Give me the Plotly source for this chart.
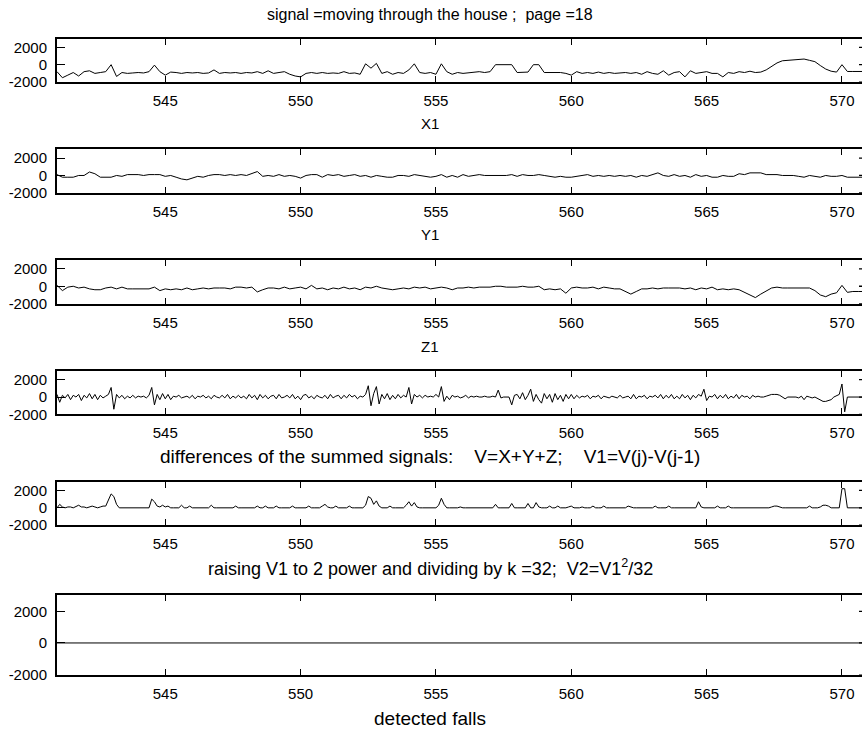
import numpy as np
import plotly.graph_objects as go

# ---------------- data ----------------
T0, T1 = 541.0, 571.0
T_COARSE = np.round(np.linspace(T0, T1, 151), 1)   # 0.2 s grid
T_FINE = np.round(np.linspace(T0, T1, 301), 1)     # 0.1 s grid

X1 = [-800, -1500, -1200, -900, -1300, -800, -700, -1000, -900, -800,
      0, -1350, -900, -1000, -950, -900, -950, -800, -50, -800,
      -1200, -850, -900, -1000, -900, -950, -900, -1000, -950, -600,
      -1000, -900, -950, -900, -1000, -900, -950, -800, -1000, -700,
      -1000, -900, -800, -1100, -1300, -1400, -1000, -900, -1000, -900,
      -1000, -950, -1000, -800, -1000, -950, -1100, 100, -400, 150,
      -1000, -800, -1100, -900, -1000, -600, 100, -900, -1000, -900,
      -1100, 100, -800, -1100, -900, -1000, -950, -900, -800, -900,
      -800, 0, 0, 0, 0, -900, -900, -850, 0, 0,
      -900, -900, -950, -900, -1000, -1200, -800, -1000, -900, -1000,
      -850, -1000, -900, -1000, -950, -900, -1000, -900, -1100, -800,
      -1000, -1100, -700, -1200, -900, -800, -1400, -700, -1000, -900,
      -800, -1000, -1000, -1400, -900, -1000, -800, -900, -750, -900,
      -850, -600, -200, 200, 450, 500, 500, 550, 650, 500,
      350, -100, -500, -750, -850, 0, -780, -780, -780, -780,
      -780]

Y1 = [100, -200, -200, -200, 0, 0, 400, 200, -200, -200,
      -200, 0, -100, 100, 100, 100, 0, 100, 100, 100,
      -100, 0, -200, -400, -500, -300, -100, -200, 0, 100,
      100, 0, 100, 0, 100, 0, 200, 450, -100, 0,
      -100, 100, -100, 0, -100, -300, 0, 100, 100, -200,
      100, 0, 100, -100, 0, 100, -100, 0, -200, 0,
      -100, -200, -200, 0, 0, -100, 100, 0, -100, -200,
      -100, 100, -200, 0, -200, 100, -100, 0, 100, 0,
      0, 0, 0, 0, 100, -100, 100, 0, 0, 100,
      0, -100, -200, -100, -200, -200, -100, 0, 100, -100,
      0, -100, 0, -100, 0, -100, 0, -200, 0, -100,
      100, 300, 0, -100, 100, -100, 0, -200, 100, -100,
      0, -200, -200, 0, -100, -100, 200, 100, 300, 300,
      300, 100, 100, 100, 0, 0, 0, -100, -200, 0,
      -100, -200, 0, -100, -100, 0, -200, -200, -200, -200,
      -200]

Z1 = [100, -500, -100, 0, -200, -100, -300, -400, -400, -200,
      -100, -300, -100, -300, -300, -300, -300, -300, -100, -500,
      -300, -400, -300, -400, -200, -400, -300, -200, -300, -200,
      -200, -200, -300, -100, -100, -200, -100, -650, -400, -200,
      -200, -300, -100, -300, -200, -100, -300, 100, -300, -200,
      -400, -200, -300, -100, -300, -200, -400, -100, -200, 0,
      -200, -300, -400, -300, -200, -300, -100, -200, -100, -300,
      -200, -100, -200, -400, -200, -200, -100, -200, -100, -100,
      -100, 0, 0, -100, -100, -100, 0, -100, -100, 0,
      -400, -300, -400, -300, -800, -200, -100, -200, -200, -100,
      -300, -100, -200, -300, -300, -600, -900, -600, -300, -300,
      -200, -300, -200, -200, -200, -200, -300, -200, -400, -200,
      -300, -100, -400, -300, -400, -300, -400, -700, -1000, -1300,
      -900, -500, -200, -100, -200, -200, -200, -200, -200, -200,
      -500, -1000, -1200, -900, -750, 100, -700, -600, -600, -600,
      -600]

V1 = [300, -600, 200, -100, 300, -300, 200, 0, 300, -400,
      200, -100, 400, -200, 300, -300, 200, -100, 100, 300,
      1100, -1400, 300, -100, 200, -200, 100, -100, 200, -100,
      100, 0, 100, -100, 200, 1100, -900, 300, -300, 400,
      -200, 300, -300, 100, 0, 200, -100, 0, 100, -100,
      200, -200, 100, 0, 200, -100, 100, -200, 200, 0,
      -100, 200, -100, 300, -200, 100, -100, 200, -100, 100,
      -200, 300, -100, 200, -300, 300, -100, 200, -200, 100,
      200, -200, 300, -100, 0, 200, -100, 300, -200, 100,
      -300, 200, 300, -100, 100, -200, 200, 0, -100, 200,
      -200, 300, -100, 100, 200, -200, 200, -100, 300, 0,
      200, -200, 100, 0, 300, 1300, -1000, 400, 1200, -800,
      300, -200, 400, -300, 200, -200, 300, -100, 200, 0,
      1100, -800, 300, 0, 200, -100, 200, 0, 100, 0,
      300, 0, 1200, -500, 100, -300, 200, 0, 100, -100,
      0, 200, -100, 100, 0, 100, 0, 0, 100, 0,
      0, 100, 0, 800, -100, 0, 0, 0, -900, 200,
      300, -200, 500, -300, 200, 900, -500, 300, -300, -700,
      400, -200, 300, -600, 400, -300, 200, -500, 300, -200,
      300, -200, 200, -100, 100, 0, 200, -200, 100, 0,
      200, -200, 100, 0, -100, 100, 0, -100, 200, -100,
      0, 100, -200, 300, -200, 100, 0, 200, -200, 100,
      0, 200, -100, 300, -200, 200, -100, 300, -200, 100,
      -200, 300, -100, 200, -300, 200, -100, 300, 100, 900,
      -400, 100, 0, 300, -200, 200, -100, 300, -200, 100,
      -100, 300, -200, 200, 0, 100, -200, 200, 0, 100,
      0, 0, 100, 200, 300, 300, 300, 200, 0, -200,
      0, 0, 0, 0, -100, 100, -300, 100, 0, -100,
      0, -200, -400, -500, -500, -400, -300, 0, 200, 300,
      1500, -1700, 0, 0, 0, 0, 0, 0, 0, 0,
      0]

V2 = [0, 400, 100, 0, 100, 100, 0, 200, 300, 100,
      100, 0, 100, 200, 100, 0, 100, 200, 200, 900,
      1600, 1300, 400, 0, 0, 0, 0, 0, 0, 0,
      0, 0, 0, 0, 0, 1000, 700, 200, 100, 300,
      100, 200, 0, 0, 0, 0, 300, 0, 0, 200,
      0, 0, 0, 0, 0, 0, 0, 300, 0, 0,
      0, 0, 0, 0, 0, 0, 200, 0, 0, 0,
      0, 0, 0, 0, 200, 0, 0, 200, 0, 0,
      0, 200, 0, 0, 0, 0, 0, 200, 0, 0,
      0, 0, 0, 200, 0, 0, 0, 0, 200, 400,
      100, 0, 0, 200, 0, 0, 0, 0, 200, 0,
      0, 0, 0, 0, 300, 1300, 1100, 400, 800, 200,
      0, 0, 0, 200, 0, 0, 0, 0, 0, 300,
      700, 200, 600, 100, 0, 0, 0, 0, 0, 0,
      0, 300, 1100, 400, 0, 0, 0, 0, 0, 100,
      0, 0, 0, 0, 0, 0, 0, 0, 0, 0,
      0, 0, 400, 0, 0, 0, 0, 0, 500, 0,
      0, 0, 0, 0, 500, 0, 0, 600, 100, 0,
      0, 0, 200, 0, 0, 200, 0, 0, 0, 100,
      200, 0, 0, 0, 100, 0, 0, 0, 200, 0,
      0, 0, 200, 0, 0, 0, 0, 0, 0, 0,
      0, 200, 100, 0, 0, 0, 0, 0, 0, 0,
      0, 200, 0, 0, 0, 0, 200, 0, 0, 0,
      0, 0, 0, 0, 0, 0, 0, 700, 100, 0,
      0, 0, 0, 0, 200, 0, 0, 0, 200, 0,
      0, 0, 0, 0, 0, 0, 0, 0, 0, 0,
      0, 0, 0, 0, 100, 200, 200, 100, 0, 0,
      0, 0, 0, 0, 0, 0, 0, 0, 200, 0,
      0, 0, 100, 300, 300, 200, 0, 0, 0, 0,
      2200, 2200, 0, 0, 0, 0, 0, 0, 0, 0,
      0]

FALLS = [0] * len(T_FINE)   # no falls detected: flat zero line

X_TICKS = [545, 550, 555, 560, 565, 570]
Y_TICKS = [-2000, 0, 2000]
Y_LABELS = ["-2000", "0", "2000"]
Y_RANGE = [-2000, 3000]
X_RANGE = [541.0, 570.74]

NB = "\u00a0"
TITLE = "signal =moving through the house ;" + NB * 2 + "page =18"
XLABELS = ["X1", "Y1", "Z1",
           "differences of the summed signals:" + NB * 4 + "V=X+Y+Z;" + NB * 4 + "V1=V(j)-V(j-1)",
           "raising V1 to 2 power and dividing by k =32;" + NB * 2 + "V2=V1<sup>2</sup>/32",
           "detected falls"]
XLABEL_SIZES = [15, 15, 15, 19, 18, 19]

SERIES = [(T_COARSE, X1), (T_COARSE, Y1), (T_COARSE, Z1),
          (T_FINE, V1), (T_FINE, V2), (T_FINE, FALLS)]

# ---------------- layout geometry (pixels) ----------------
W, H = 862, 738
LEFT = 57
BOXES = [(39, 83), (151, 195), (263, 307), (375, 419), (487, 531), (602, 682)]
LABEL_Y = [125, 237, 350, 462, 574, 726]
FONT = "Liberation Sans, Arial, sans-serif"

fig = go.Figure()
layout = dict(
    width=W, height=H, margin=dict(l=0, r=0, t=0, b=0),
    paper_bgcolor="white", plot_bgcolor="white", showlegend=False,
    font=dict(family=FONT, size=15, color="black"),
)
shapes = []
annotations = []

for i, ((t, v), (top, bot)) in enumerate(zip(SERIES, BOXES)):
    n = "" if i == 0 else str(i + 1)
    fig.add_trace(go.Scatter(x=t, y=v, mode="lines",
                             line=dict(color="black", width=1),
                             xaxis="x" + n, yaxis="y" + n, hoverinfo="skip"))
    layout["xaxis" + n] = dict(
        domain=[LEFT / W, 1.0], range=X_RANGE, anchor="y" + n,
        tickvals=X_TICKS, ticks="inside", ticklen=6, tickwidth=1.3,
        tickcolor="black", showline=True, linewidth=2, linecolor="black",
        mirror="ticks", showgrid=False, zeroline=False, ticklabelstandoff=4,
        tickfont=dict(family=FONT, size=15, color="black"), fixedrange=True,
    )
    layout["yaxis" + n] = dict(
        domain=[1 - bot / H, 1 - top / H], range=Y_RANGE, anchor="x" + n,
        tickvals=Y_TICKS, ticktext=Y_LABELS, ticks="inside", ticklen=8,
        tickwidth=1.3, tickcolor="black", showline=True, linewidth=2,
        linecolor="black", mirror=False, showgrid=False, zeroline=False,
        ticklabelstandoff=5,
        tickfont=dict(family=FONT, size=15, color="black"), fixedrange=True,
    )
    # right-side inward y ticks, mostly cut off by the figure edge
    for yv in Y_TICKS:
        shapes.append(dict(type="line", xref="paper", yref="y" + n,
                           x0=1 - 3 / W, x1=1.0, y0=yv, y1=yv,
                           line=dict(color="black", width=1.3)))
    annotations.append(dict(text=XLABELS[i], xref="paper", yref="paper",
                            x=430 / W, y=1 - LABEL_Y[i] / H, showarrow=False,
                            xanchor="center", yanchor="middle",
                            font=dict(family=FONT, size=XLABEL_SIZES[i],
                                      color="black")))

annotations.append(dict(text=TITLE, xref="paper", yref="paper",
                        x=430 / W, y=1 - 15 / H, showarrow=False,
                        xanchor="center", yanchor="middle",
                        font=dict(family=FONT, size=16, color="black")))

layout["shapes"] = shapes
layout["annotations"] = annotations
fig.update_layout(**layout)
fig.write_html("out.html")
